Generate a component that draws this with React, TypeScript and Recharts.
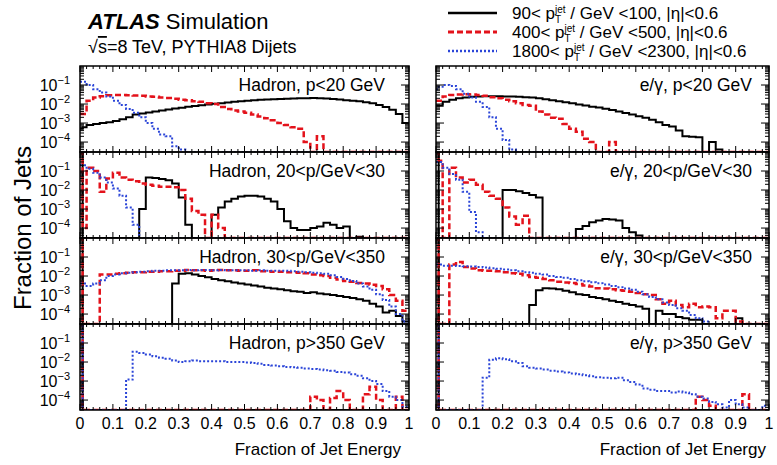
import React from 'react';
import { LineChart, Line, XAxis, YAxis } from 'recharts';

// lower bin edges: narrow "zero fraction" bin, then bins of 0.02
const BIN_X = [
  0, 0.008, 0.02, 0.04, 0.06, 0.08, 0.1, 0.12, 0.14, 0.16, 0.18,
  0.2, 0.22, 0.24, 0.26, 0.28, 0.3, 0.32, 0.34, 0.36, 0.38,
  0.4, 0.42, 0.44, 0.46, 0.48, 0.5, 0.52, 0.54, 0.56, 0.58,
  0.6, 0.62, 0.64, 0.66, 0.68, 0.7, 0.72, 0.74, 0.76, 0.78,
  0.8, 0.82, 0.84, 0.86, 0.88, 0.9, 0.92, 0.94, 0.96, 0.98,
];

const X_TICKS = [
  0, 0.02, 0.04, 0.06, 0.08, 0.1, 0.12, 0.14, 0.16, 0.18,
  0.2, 0.22, 0.24, 0.26, 0.28, 0.3, 0.32, 0.34, 0.36, 0.38,
  0.4, 0.42, 0.44, 0.46, 0.48, 0.5, 0.52, 0.54, 0.56, 0.58,
  0.6, 0.62, 0.64, 0.66, 0.68, 0.7, 0.72, 0.74, 0.76, 0.78,
  0.8, 0.82, 0.84, 0.86, 0.88, 0.9, 0.92, 0.94, 0.96, 0.98, 1,
];
const X_MAJOR = [0, 0.1, 0.2, 0.3, 0.4, 0.5, 0.6, 0.7, 0.8, 0.9, 1];
const X_LABELS = ['0', '0.1', '0.2', '0.3', '0.4', '0.5', '0.6', '0.7', '0.8', '0.9', '1'];

const Y_MAJOR = [1e-4, 1e-3, 1e-2, 1e-1];
const Y_EXP = ['\u22124', '\u22123', '\u22122', '\u22121'];
const Y_MINOR = [
  3e-5, 4e-5, 5e-5, 6e-5, 7e-5, 8e-5, 9e-5,
  2e-4, 3e-4, 4e-4, 5e-4, 6e-4, 7e-4, 8e-4, 9e-4,
  2e-3, 3e-3, 4e-3, 5e-3, 6e-3, 7e-3, 8e-3, 9e-3,
  2e-2, 3e-2, 4e-2, 5e-2, 6e-2, 7e-2, 8e-2, 9e-2,
  0.2, 0.3, 0.4, 0.5, 0.6, 0.7, 0.8, 0.9,
];
const Y_MIN = 3e-5;
const Y_MAX = 1;

// ---- Hadron, p<20 GeV
const HAD_LT20_PT90 = [5e-4,
  6e-4, 8e-4, 9e-4, 1e-3, 1.1e-3, 1.3e-3, 1.6e-3, 2e-3, 2.8e-3, 3.2e-3,
  3.6e-3, 4e-3, 4.6e-3, 5.2e-3, 5.8e-3, 6.4e-3, 7.1e-3, 7.9e-3, 8.7e-3, 9.5e-3,
  1.03e-2, 1.1e-2, 1.2e-2, 1.3e-2, 1.4e-2, 1.5e-2, 1.6e-2, 1.7e-2, 1.75e-2, 1.8e-2,
  1.85e-2, 1.9e-2, 1.95e-2, 2e-2, 2e-2, 2.05e-2, 2e-2, 1.95e-2, 1.85e-2, 1.75e-2,
  1.6e-2, 1.5e-2, 1.4e-2, 1.25e-2, 1.1e-2, 9e-3, 7e-3, 5e-3, 3e-3, 1e-3];
const HAD_LT20_PT400 = [3e-3,
  3e-3, 1.5e-2, 2.2e-2, 2.6e-2, 2.9e-2, 3e-2, 3e-2, 2.9e-2, 2.8e-2, 2.7e-2,
  2.5e-2, 2.4e-2, 2.2e-2, 2.1e-2, 1.9e-2, 1.7e-2, 1.6e-2, 1.4e-2, 1.3e-2, 1.1e-2,
  1e-2, 7e-3, 5.5e-3, 4.5e-3, 4e-3, 3.5e-3, 2.8e-3, 2.2e-3, 1.8e-3, 1.4e-3,
  1e-3, 8e-4, 6e-4, 5e-4, 1e-4, 0, 2e-4, 0, 0, 0,
  0, 0, 0, 0, 0, 0, 0, 0, 0, 0];
const HAD_LT20_PT1800 = [0.15,
  0.15, 0.1, 0.06, 0.04, 0.025, 0.015, 9e-3, 5.5e-3, 3.5e-3, 2e-3,
  1e-3, 5e-4, 2.5e-4, 2e-4, 6e-5, 4e-5, 0, 0, 0, 0,
  0, 0, 0, 0, 0, 0, 0, 0, 0, 0,
  0, 0, 0, 0, 0, 0, 0, 0, 0, 0,
  0, 0, 0, 0, 0, 0, 0, 0, 0, 0];

// ---- e/gamma, p<20 GeV
const EG_LT20_PT90 = [8e-3,
  8e-3, 1.3e-2, 1.7e-2, 2e-2, 2.2e-2, 2.4e-2, 2.5e-2, 2.6e-2, 2.6e-2, 2.6e-2,
  2.5e-2, 2.5e-2, 2.4e-2, 2.3e-2, 2.2e-2, 2e-2, 1.8e-2, 1.6e-2, 1.4e-2, 1.25e-2,
  1.1e-2, 9.5e-3, 8.3e-3, 7.3e-3, 6.5e-3, 5.6e-3, 4.8e-3, 4e-3, 3.4e-3, 2.8e-3,
  2.3e-3, 1.9e-3, 1.5e-3, 1.1e-3, 8e-4, 6.5e-4, 4e-4, 2e-4, 1.9e-4, 1.8e-4,
  0, 1e-4, 4e-5, 0, 0, 0, 0, 0, 0, 0];
const EG_LT20_PT400 = [1.5e-2,
  1.5e-2, 2.5e-2, 3e-2, 3.2e-2, 3.3e-2, 3.2e-2, 3e-2, 2.7e-2, 2.3e-2, 2e-2,
  1.7e-2, 1.4e-2, 1.1e-2, 9e-3, 8e-3, 4e-3, 2.8e-3, 1.9e-3, 1.7e-3, 9e-4,
  5e-4, 3.5e-4, 1.5e-4, 1e-4, 0, 0, 1e-4, 0, 0, 0,
  0, 0, 0, 0, 0, 0, 0, 0, 0, 0,
  0, 0, 0, 0, 0, 0, 0, 0, 0, 0];
const EG_LT20_PT1800 = [0.06,
  0.08, 0.1, 0.09, 0.06, 0.035, 0.022, 0.013, 7e-3, 2e-3, 5e-4,
  1.3e-4, 4e-5, 0, 0, 0, 0, 0, 0, 0, 0,
  0, 0, 0, 0, 0, 0, 0, 0, 0, 0,
  0, 0, 0, 0, 0, 0, 0, 0, 0, 0,
  0, 0, 0, 0, 0, 0, 0, 0, 0, 0];

// ---- Hadron, 20<p/GeV<30
const HAD_20_30_PT90 = [1,
  0, 0, 0, 0, 0, 0, 0, 0, 0, 1e-3,
  0.045, 0.043, 0.038, 0.033, 0.022, 4e-3, 1.5e-4, 0, 0, 0,
  5e-4, 1.2e-3, 2.5e-3, 3.5e-3, 4.5e-3, 5e-3, 5e-3, 4.5e-3, 3.5e-3, 2.5e-3,
  1e-3, 2.3e-4, 1e-4, 8e-5, 8e-5, 1e-4, 1.2e-4, 1.9e-4, 1.5e-4, 1e-4,
  1.2e-4, 0, 3.5e-5, 0, 0, 0, 0, 0, 0, 0];
const HAD_20_30_PT400 = [1,
  1e-4, 0.15, 0.1, 8e-3, 0.04, 0.08, 0.045, 0.035, 0.029, 0.022,
  0.019, 0.017, 0.015, 0.015, 0.014, 0.01, 3.5e-3, 8e-4, 5e-4, 0,
  5e-4, 1e-4, 0, 0, 0, 0, 0, 0, 0, 0,
  0, 0, 0, 0, 0, 0, 0, 0, 0, 0,
  0, 0, 0, 0, 0, 0, 0, 0, 0, 0];
const HAD_20_30_PT1800 = [0.2,
  0.2, 0.13, 0.08, 0.045, 0.025, 0.012, 5e-3, 1.2e-3, 1.5e-4, 0,
  0, 0, 0, 0, 0, 0, 0, 0, 0, 0,
  0, 0, 0, 0, 0, 0, 0, 0, 0, 0,
  0, 0, 0, 0, 0, 0, 0, 0, 0, 0,
  0, 0, 0, 0, 0, 0, 0, 0, 0, 0];

// ---- e/gamma, 20<p/GeV<30
const EG_20_30_PT90 = [1,
  0, 0, 0, 0, 0, 0, 0, 0, 0, 0,
  0.01, 0.01, 8.5e-3, 7e-3, 5.5e-3, 4e-3, 0, 0, 0, 0,
  0, 9e-5, 1.3e-4, 2e-4, 2.5e-4, 3e-4, 2.8e-4, 2.5e-4, 1e-4, 6e-5,
  4e-5, 0, 0, 0, 0, 0, 0, 0, 0, 0,
  0, 0, 0, 0, 0, 0, 0, 0, 0, 0];
const EG_20_30_PT400 = [1,
  0.35, 0, 0.15, 0.045, 0.025, 0.035, 0.019, 8e-3, 5e-3, 3.5e-3,
  1.2e-3, 4e-4, 1.5e-4, 4.5e-4, 0, 0, 0, 0, 0, 0,
  0, 0, 0, 0, 0, 0, 0, 0, 0, 0,
  0, 0, 0, 0, 0, 0, 0, 0, 0, 0,
  0, 0, 0, 0, 0, 0, 0, 0, 0, 0];
const EG_20_30_PT1800 = [0.3,
  0.3, 0.15, 0.07, 0.035, 8e-3, 7e-4, 6e-5, 0, 0, 0,
  0, 0, 0, 0, 0, 0, 0, 0, 0, 0,
  0, 0, 0, 0, 0, 0, 0, 0, 0, 0,
  0, 0, 0, 0, 0, 0, 0, 0, 0, 0,
  0, 0, 0, 0, 0, 0, 0, 0, 0, 0];

// ---- Hadron, 30<p/GeV<350
const HAD_30_350_PT90 = [1,
  0, 0, 0, 0, 0, 0, 0, 0, 0, 0,
  0, 0, 0, 0, 4e-3, 1.3e-2, 1.4e-2, 1.2e-2, 1e-2, 8.5e-3,
  7e-3, 6e-3, 5.3e-3, 4.5e-3, 4e-3, 3.6e-3, 3.2e-3, 2.8e-3, 2.4e-3, 2.2e-3,
  2e-3, 1.8e-3, 1.6e-3, 1.5e-3, 1.3e-3, 1.4e-3, 1.2e-3, 1.1e-3, 1e-3, 9e-4,
  8e-4, 7e-4, 6e-4, 5e-4, 3.5e-4, 2.5e-4, 1.2e-4, 1.5e-4, 8e-5, 4e-5];
const HAD_30_350_PT400 = [1,
  0, 0, 0, 0.012, 0.012, 0.013, 0.014, 0.015, 0.016, 0.016,
  0.017, 0.017, 0.018, 0.018, 0.019, 0.019, 0.021, 0.02, 0.02, 0.019,
  0.02, 0.021, 0.02, 0.02, 0.019, 0.019, 0.02, 0.018, 0.018, 0.017,
  0.017, 0.016, 0.016, 0.015, 0.014, 0.012, 0.011, 0.01, 8e-3, 6.5e-3,
  5.5e-3, 5e-3, 4.3e-3, 4e-3, 3.5e-3, 3e-3, 2e-3, 1e-3, 5e-4, 1.5e-4];
const HAD_30_350_PT1800 = [4e-3,
  4e-3, 3e-3, 4e-3, 6e-3, 1e-2, 1.2e-2, 1.4e-2, 1.5e-2, 1.6e-2, 1.7e-2,
  1.8e-2, 1.9e-2, 1.9e-2, 2e-2, 2e-2, 2e-2, 2.1e-2, 2e-2, 2.1e-2, 2.1e-2,
  2e-2, 2.1e-2, 2e-2, 2e-2, 2e-2, 2e-2, 1.9e-2, 2e-2, 1.9e-2, 1.9e-2,
  1.9e-2, 1.9e-2, 1.8e-2, 1.7e-2, 1.6e-2, 1.5e-2, 1.4e-2, 1.3e-2, 1.1e-2, 9e-3,
  7e-3, 5.5e-3, 4e-3, 2.8e-3, 1.9e-3, 1.1e-3, 5.5e-4, 2.5e-4, 1e-4, 4e-5];

// ---- e/gamma, 30<p/GeV<350
const EG_30_350_PT90 = [1,
  0, 0, 0, 0, 0, 0, 0, 0, 0, 0,
  0, 0, 0, 0, 3e-4, 1.8e-3, 2.3e-3, 2.2e-3, 2e-3, 1.7e-3,
  1.4e-3, 1.1e-3, 1e-3, 8e-4, 7e-4, 6e-4, 5e-4, 4.3e-4, 3.5e-4, 3e-4,
  2.5e-4, 1.9e-4, 0, 1.5e-4, 1e-4, 1e-4, 7e-5, 6e-5, 5e-5, 5e-5,
  0, 0, 0, 0, 0, 6e-5, 0, 0, 0, 0];
const EG_30_350_PT400 = [1,
  0, 0, 0.04, 0.055, 0.03, 0.025, 0.02, 0.019, 0.019, 0.018,
  0.016, 0.014, 0.013, 0.011, 9e-3, 8e-3, 7e-3, 6e-3, 5e-3, 4.5e-3,
  4.3e-3, 3.8e-3, 3.2e-3, 2.8e-3, 2.3e-3, 2.2e-3, 2e-3, 1.8e-3, 1.7e-3, 1.5e-3,
  1.3e-3, 1.1e-3, 1e-3, 6e-4, 3.5e-4, 5e-4, 3e-4, 2.3e-4, 3.5e-4, 2.3e-4,
  2.5e-4, 2.3e-4, 6e-5, 1.5e-4, 1.5e-4, 4e-5, 0, 0, 0, 0];
const EG_30_350_PT1800 = [0.04,
  0.04, 0.035, 0.035, 0.034, 0.033, 0.032, 0.03, 0.028, 0.026, 0.024,
  0.022, 0.02, 0.018, 0.016, 0.015, 0.013, 0.012, 0.01, 9e-3, 8e-3,
  7e-3, 6e-3, 5.3e-3, 4.7e-3, 4.2e-3, 3.6e-3, 3e-3, 2.6e-3, 2.2e-3, 1.9e-3,
  1.5e-3, 1.1e-3, 8e-4, 6e-4, 4e-4, 3e-4, 2e-4, 1.5e-4, 9e-5, 6e-5,
  4e-5, 0, 0, 0, 0, 0, 0, 0, 0, 0];

// ---- Hadron, p>350 GeV
const HAD_GT350_PT90 = [1,
  0, 0, 0, 0, 0, 0, 0, 0, 0, 0,
  0, 0, 0, 0, 0, 0, 0, 0, 0, 0,
  0, 0, 0, 0, 0, 0, 0, 0, 0, 0,
  0, 0, 0, 0, 0, 0, 0, 0, 0, 0,
  0, 0, 0, 0, 0, 0, 0, 0, 0, 0];
const HAD_GT350_PT400 = [1,
  0, 0, 0, 0, 0, 0, 0, 0, 0, 0,
  0, 0, 0, 0, 0, 0, 0, 0, 0, 0,
  0, 0, 0, 0, 0, 0, 0, 0, 0, 0,
  0, 0, 0, 0, 0, 1.5e-4, 1e-4, 0, 1.3e-4, 3e-4,
  1e-4, 0, 0, 2e-4, 5e-4, 1e-4, 0, 0, 1.5e-4, 0];
const HAD_GT350_PT1800 = [1,
  0, 0, 0, 0, 0, 0, 0, 1.2e-3, 0.035, 0.03,
  0.025, 0.02, 0.017, 0.015, 0.012, 0.01, 0.011, 0.012, 0.011, 0.011,
  0.011, 0.011, 0.01, 0.01, 0.01, 9.5e-3, 9e-3, 8e-3, 7e-3, 6.5e-3,
  6e-3, 5.5e-3, 5.3e-3, 5e-3, 4.5e-3, 4.3e-3, 4e-3, 3.7e-3, 3.5e-3, 3e-3,
  2.8e-3, 2.3e-3, 1.9e-3, 1.4e-3, 1e-3, 7e-4, 3e-4, 1.5e-4, 1e-4, 4.5e-5];

// ---- e/gamma, p>350 GeV
const EG_GT350_PT90 = [1,
  0, 0, 0, 0, 0, 0, 0, 0, 0, 0,
  0, 0, 0, 0, 0, 0, 0, 0, 0, 0,
  0, 0, 0, 0, 0, 0, 0, 0, 0, 0,
  0, 0, 0, 0, 0, 0, 0, 0, 0, 0,
  0, 0, 0, 0, 0, 0, 0, 0, 0, 0];
const EG_GT350_PT400 = [1,
  0, 0, 0, 0, 0, 0, 0, 0, 0, 0,
  0, 0, 0, 0, 0, 0, 0, 0, 0, 0,
  0, 0, 0, 0, 0, 0, 0, 0, 0, 0,
  0, 0, 0, 0, 0, 0, 0, 0, 0, 1.5e-4,
  1e-4, 5e-5, 0, 0, 0, 0, 2e-4, 0, 0, 0];
const EG_GT350_PT1800 = [1,
  0, 0, 0, 0, 0, 0, 0, 1.5e-3, 0.013, 0.016,
  0.014, 0.011, 9e-3, 6e-3, 5e-3, 4.5e-3, 4e-3, 3.5e-3, 3.2e-3, 2.8e-3,
  2.5e-3, 2.3e-3, 2e-3, 1.8e-3, 1.6e-3, 1.5e-3, 1.4e-3, 1.5e-3, 1.1e-3, 9e-4,
  6.5e-4, 4e-4, 3.5e-4, 3e-4, 3e-4, 2.5e-4, 2.8e-4, 2.5e-4, 2e-4, 1.5e-4,
  1.2e-4, 8e-5, 6e-5, 4e-5, 1e-4, 6e-5, 4e-5, 0, 3e-5, 5e-5];

const PANEL_LABELS = [
  'Hadron, p<20 GeV', 'e/\u03b3, p<20 GeV',
  'Hadron, 20<p/GeV<30', 'e/\u03b3, 20<p/GeV<30',
  'Hadron, 30<p/GeV<350', 'e/\u03b3, 30<p/GeV<350',
  'Hadron, p>350 GeV', 'e/\u03b3, p>350 GeV',
];
const PANEL_SERIES = [
  [HAD_LT20_PT90, HAD_LT20_PT400, HAD_LT20_PT1800],
  [EG_LT20_PT90, EG_LT20_PT400, EG_LT20_PT1800],
  [HAD_20_30_PT90, HAD_20_30_PT400, HAD_20_30_PT1800],
  [EG_20_30_PT90, EG_20_30_PT400, EG_20_30_PT1800],
  [HAD_30_350_PT90, HAD_30_350_PT400, HAD_30_350_PT1800],
  [EG_30_350_PT90, EG_30_350_PT400, EG_30_350_PT1800],
  [HAD_GT350_PT90, HAD_GT350_PT400, HAD_GT350_PT1800],
  [EG_GT350_PT90, EG_GT350_PT400, EG_GT350_PT1800],
];

const LEGEND_LO = ['90', '400', '1800'];
const LEGEND_HI = ['100', '500', '2300'];

const SERIES_STYLE = [
  { stroke: '#000000', width: 2, dash: undefined },
  { stroke: '#e3121b', width: 2.5, dash: '6 3' },
  { stroke: '#2b45d8', width: 2, dash: '2 2' },
];

// layout
const PLOT_X = [80, 436];
const PLOT_W = [329, 333];
const TOP = 66;
const ROW_H = 86;
const AXIS_W = 50;
const PAD_R = 12;
const X_AXIS_H = 24;
const FONT = '"Liberation Sans", Arial, Helvetica, sans-serif';

const toPoints = (vals: number[]) => {
  const pts = vals.map((v, i) => ({ x: BIN_X[i], y: Math.max(v, Y_MIN) }));
  pts.push({ x: 1, y: Math.max(vals[vals.length - 1], Y_MIN) });
  return pts;
};

const renderXTick = (row: number) => (p: any) => {
  const v = p.payload.value;
  const mi = X_MAJOR.findIndex((m) => Math.abs(m - v) < 1e-6);
  const len = mi >= 0 ? 6 : 3;
  const x = p.x;
  return (
    <g>
      <line x1={x} x2={x} y1={ROW_H} y2={ROW_H - len} stroke="#000" strokeWidth={1} />
      <line x1={x} x2={x} y1={0} y2={len} stroke="#000" strokeWidth={1} />
      {row === 3 && mi >= 0 && (
        <text x={x} y={ROW_H + 19} textAnchor="middle" fontSize={16} fontFamily={FONT} fill="#000">
          {X_LABELS[mi]}
        </text>
      )}
    </g>
  );
};

const renderYTick = (col: number) => (p: any) => {
  const v = p.payload.value;
  const mi = Y_MAJOR.indexOf(v);
  const len = mi >= 0 ? 8 : 4;
  const y = p.y;
  const xl = AXIS_W;
  const xr = AXIS_W + PLOT_W[col];
  return (
    <g>
      <line x1={xl} x2={xl + len} y1={y} y2={y} stroke="#000" strokeWidth={1} />
      <line x1={xr} x2={xr - len} y1={y} y2={y} stroke="#000" strokeWidth={1} />
      {col === 0 && mi >= 0 && (
        <text x={xl - 10} y={y + 6} textAnchor="end" fontSize={16} fontFamily={FONT} fill="#000">
          10<tspan dy={-7} fontSize={11}>{Y_EXP[mi]}</tspan>
        </text>
      )}
    </g>
  );
};

const Panel = ({ idx }: { idx: number }) => {
  const row = Math.floor(idx / 2);
  const col = idx % 2;
  return (
    <div style={{ position: 'absolute', left: PLOT_X[col] - AXIS_W, top: TOP + row * ROW_H }}>
      <LineChart
        width={AXIS_W + PLOT_W[col] + PAD_R}
        height={ROW_H + X_AXIS_H}
        margin={{ top: 0, right: PAD_R, bottom: 0, left: 0 }}
      >
        <XAxis
          type="number"
          dataKey="x"
          domain={[0, 1]}
          ticks={X_TICKS}
          interval={0}
          height={X_AXIS_H}
          tickLine={false}
          axisLine={false}
          allowDataOverflow
          tick={renderXTick(row)}
        />
        <YAxis
          type="number"
          scale="log"
          domain={[Y_MIN, Y_MAX]}
          ticks={[...Y_MINOR, ...Y_MAJOR]}
          interval={0}
          width={AXIS_W}
          tickLine={false}
          axisLine={false}
          allowDataOverflow
          tick={renderYTick(col)}
        />
        {PANEL_SERIES[idx].map((vals, i) => (
          <Line
            key={i}
            data={toPoints(vals)}
            dataKey="y"
            type="stepAfter"
            stroke={SERIES_STYLE[i].stroke}
            strokeWidth={SERIES_STYLE[i].width}
            strokeDasharray={SERIES_STYLE[i].dash}
            dot={false}
            activeDot={false}
            isAnimationActive={false}
          />
        ))}
      </LineChart>
    </div>
  );
};

const LegendText = ({ i, y }: { i: number; y: number }) => (
  <text x={512} y={y} fontSize={17} fontFamily={FONT} fill="#000">
    {LEGEND_LO[i]}&lt; p
    <tspan dy={-6} fontSize={10}>jet</tspan>
    <tspan dx={-10.5} dy={10} fontSize={10}>T</tspan>
    <tspan dx={4.4} dy={-4}> / GeV &lt;{LEGEND_HI[i]}, |η|&lt;0.6</tspan>
  </text>
);

export default function App() {
  const legendY = [13, 32, 51];
  return (
    <div style={{ position: 'absolute', left: 0, top: 0, width: 777, height: 465, background: '#fff', overflow: 'hidden', fontFamily: FONT }}>
      {PANEL_LABELS.map((_, i) => (
        <Panel key={i} idx={i} />
      ))}
      <svg width={777} height={465} style={{ position: 'absolute', left: 0, top: 0, pointerEvents: 'none' }}>
        {PANEL_LABELS.map((lab, i) => {
          const row = Math.floor(i / 2);
          const col = i % 2;
          const top = TOP + row * ROW_H;
          return (
            <g key={i}>
              <rect x={PLOT_X[col]} y={top} width={PLOT_W[col]} height={ROW_H} fill="none" stroke="#000" strokeWidth={1.5} />
              <text x={PLOT_X[col] + PLOT_W[col] - (col === 0 ? 24 : 17)} y={top + 25} textAnchor="end" fontSize={17.5} fontFamily={FONT} fill="#000">
                {lab}
              </text>
            </g>
          );
        })}
        <text x={88} y={29} fontSize={22} fontFamily={FONT} fill="#000">
          <tspan fontWeight="bold" fontStyle="italic">ATLAS</tspan>
          <tspan> Simulation</tspan>
        </text>
        <text x={88} y={53} fontSize={18} fontFamily={FONT} fill="#000">
          √<tspan style={{ textDecoration: 'overline' }}>s</tspan>=8 TeV, PYTHIA8 Dijets
        </text>
        {legendY.map((y, i) => (
          <g key={i}>
            <line x1={448} x2={497} y1={y} y2={y} stroke={SERIES_STYLE[i].stroke} strokeWidth={SERIES_STYLE[i].width + 0.5} strokeDasharray={SERIES_STYLE[i].dash} />
            <LegendText i={i} y={y + 6} />
          </g>
        ))}
        <text transform="translate(31,228) rotate(-90)" textAnchor="middle" fontSize={24} fontFamily={FONT} fill="#000">
          Fraction of Jets
        </text>
        <text x={401} y={455} textAnchor="end" fontSize={17} fontFamily={FONT} fill="#000">
          Fraction of Jet Energy
        </text>
        <text x={766} y={455} textAnchor="end" fontSize={17} fontFamily={FONT} fill="#000">
          Fraction of Jet Energy
        </text>
      </svg>
    </div>
  );
}
